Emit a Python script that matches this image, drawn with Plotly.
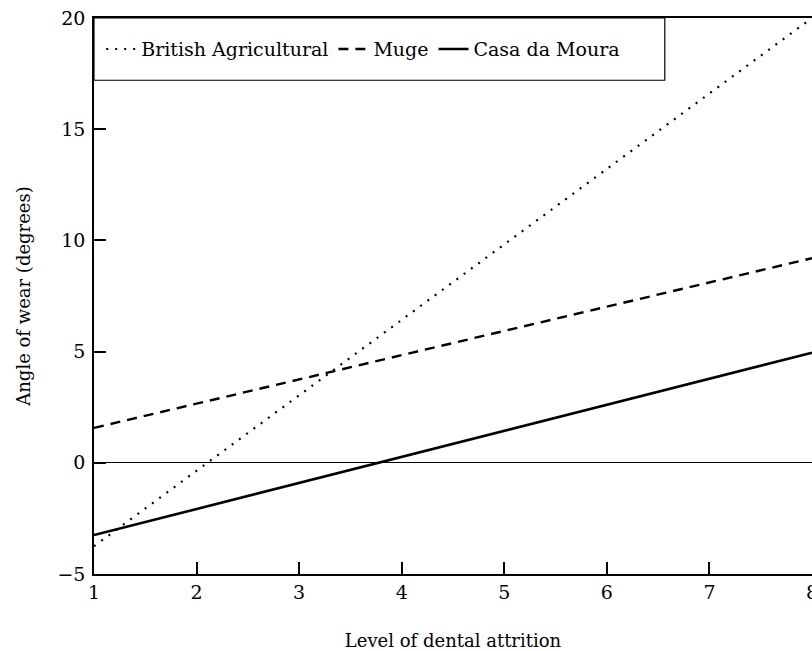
import plotly.graph_objects as go

# Data (regression lines)
levels = [1, 8]
british_agricultural = [-3.75, 20.0]
muge = [1.57, 9.2]
casa_da_moura = [-3.25, 4.95]

x_ticks = [1, 2, 3, 4, 5, 6, 7, 8]
y_ticks = [-5, 0, 5, 10, 15, 20]

FONT = "DejaVu Serif"

fig = go.Figure()
fig.add_trace(go.Scatter(x=levels, y=british_agricultural, mode="lines",
                         name="British Agricultural",
                         line=dict(color="black", width=2.2, dash="2px,7px")))
fig.add_trace(go.Scatter(x=levels, y=muge, mode="lines", name="Muge",
                         line=dict(color="black", width=2.4, dash="10px,7px")))
fig.add_trace(go.Scatter(x=levels, y=casa_da_moura, mode="lines",
                         name="Casa da Moura",
                         line=dict(color="black", width=2.6)))

fig.update_layout(
    width=812, height=651,
    margin=dict(l=94, r=0, t=18, b=77, autoexpand=False),
    paper_bgcolor="white", plot_bgcolor="white",
    font=dict(family=FONT, size=18, color="black"),
    showlegend=True,
    legend=dict(orientation="h", x=0.01, y=0.944, xanchor="left",
                yanchor="middle", bgcolor="rgba(0,0,0,0)",
                font=dict(family=FONT, size=19), itemwidth=30,
                tracegroupgap=0),
    shapes=[dict(type="rect", xref="paper", yref="paper",
                 x0=0, x1=0.795, y0=0.888, y1=1,
                 line=dict(color="black", width=1.2),
                 fillcolor="white", layer="below")],
)

fig.update_xaxes(
    range=[1, 8], tickvals=x_ticks, ticks="inside", ticklen=12,
    tickwidth=1.5, tickcolor="black", showline=True, linecolor="black",
    linewidth=1.5, mirror=True, showgrid=False, zeroline=False,
    tickfont=dict(family=FONT, size=19), ticklabeloverflow="allow",
    title=dict(text="Level of dental attrition",
               font=dict(family=FONT, size=18), standoff=34),
)
fig.update_yaxes(
    range=[-5, 20], tickvals=y_ticks, ticks="inside", ticklen=12,
    tickwidth=1.5, tickcolor="black", showline=True, linecolor="black",
    linewidth=1.5, showgrid=False, zeroline=True, zerolinecolor="black",
    zerolinewidth=1.2, tickfont=dict(family=FONT, size=19),
    ticklabelstandoff=3,
    title=dict(text="Angle of wear (degrees)",
               font=dict(family=FONT, size=18), standoff=22),
)

fig.write_html("out.html", config={"displayModeBar": False},
               post_script="document.body.style.margin='0';document.body.style.overflow='hidden';")
